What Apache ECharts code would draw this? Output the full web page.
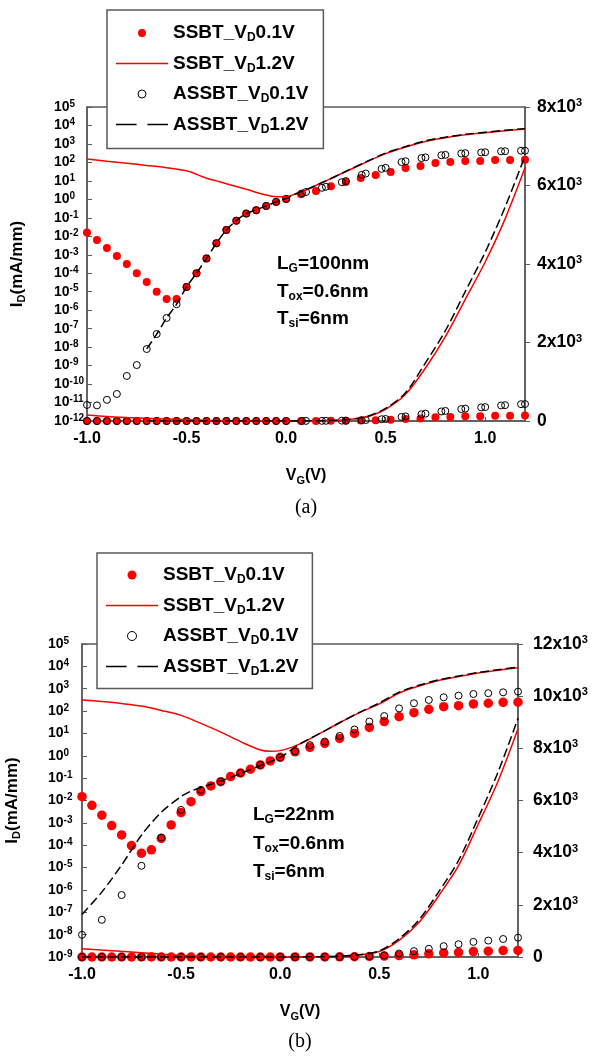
<!DOCTYPE html>
<html>
<head>
<meta charset="utf-8">
<title>SSBT / ASSBT I-V</title>
<script src="https://cdn.jsdelivr.net/npm/echarts/dist/echarts.min.js"></script>
</head>
<body style="margin:0;background:#fff;">
<div id="main" style="width:593px;height:1057px;"></div>
<script>
// series names (legend order)
var names = ['SSBT_VD0.1V', 'SSBT_VD1.2V', 'ASSBT_VD0.1V', 'ASSBT_VD1.2V'];

// ---------- panel (a): LG = 100 nm ----------
var vgDotA = [-1.0, -0.95, -0.9, -0.85, -0.8, -0.75, -0.7, -0.65, -0.6, -0.55, -0.5, -0.45, -0.4, -0.35, -0.3, -0.25, -0.2, -0.15, -0.1, -0.05, 0.0,
  0.075, 0.15, 0.225, 0.3, 0.375, 0.45, 0.525, 0.6, 0.675, 0.75, 0.825, 0.9, 0.975, 1.05, 1.125, 1.2];
var ssbtLowA = [0.016, 0.0063, 0.0023, 8.5e-4, 3.2e-4, 1.0e-4, 3.4e-5, 1.0e-5, 4.0e-6, 4.0e-6, 1.8e-5, 1.0e-4, 6.3e-4, 4.2e-3, 0.022, 0.07, 0.17, 0.26, 0.44, 0.73, 1.05,
  1.9, 2.8, 5.2, 8.7, 14.5, 21, 30, 50, 64, 93, 105, 120, 120, 135, 135, 140];
var vgRingA = [-1.0, -0.95, -0.9, -0.85, -0.8, -0.75, -0.7, -0.65, -0.6, -0.55, -0.5, -0.45, -0.4, -0.35, -0.3, -0.25, -0.2, -0.15, -0.1, -0.05, 0.0,
  0.08, 0.10, 0.18, 0.20, 0.28, 0.30, 0.38, 0.40, 0.48, 0.50, 0.58, 0.60, 0.68, 0.70, 0.78, 0.80, 0.88, 0.90, 0.98, 1.00, 1.08, 1.10, 1.18, 1.20];
var assbtLowA = [7.4e-12, 7e-12, 1.4e-11, 2.9e-11, 2.75e-10, 1.07e-9, 7.9e-9, 5.1e-8, 3.8e-7, 2.1e-6, 1.8e-5, 1.0e-4, 6.3e-4, 4.2e-3, 0.022, 0.07, 0.17, 0.26, 0.44, 0.73, 1.05,
  2.1, 2.5, 4.2, 4.8, 8.5, 9.8, 21, 25, 45, 51, 104, 116, 172, 188, 244, 256, 304, 316, 346, 354, 396, 404, 428, 432];
var vgLineA = [-1.0, -0.9, -0.8, -0.7, -0.6, -0.5, -0.4, -0.35, -0.3, -0.2, -0.1, -0.05, 0.0, 0.05, 0.1, 0.2, 0.3, 0.4, 0.5, 0.6, 0.7, 0.8, 0.9, 1.0, 1.1, 1.2];
var ssbtHighA = [153, 115, 89, 69, 52, 35, 14, 10, 7, 3.5, 1.7, 1.4, 1.4, 2.0, 3.2, 10, 32, 100, 300, 680, 1350, 2150, 3100, 4050, 5150, 6450];
var vgDashA = [-0.7, -0.65, -0.6, -0.55, -0.5, -0.45, -0.4, -0.35, -0.3, -0.25, -0.2, -0.15, -0.1, -0.05, 0.0, 0.05, 0.1, 0.2, 0.3, 0.4, 0.5, 0.6, 0.7, 0.8, 0.9, 1.0, 1.1, 1.2];
var assbtHighA = [8e-9, 5e-8, 3.8e-7, 2.1e-6, 1.8e-5, 1e-4, 6.3e-4, 4.2e-3, 0.022, 0.07, 0.17, 0.27, 0.44, 0.73, 1.1, 2.0, 3.3, 10, 33, 105, 320, 720, 1480, 2300, 3300, 4300, 5450, 6750];

// ---------- panel (b): LG = 22 nm ----------
var vgDotB = vgDotA;
var ssbtLowB = [0.0148, 0.0061, 0.0022, 7.6e-4, 2.9e-4, 9.6e-5, 4.4e-5, 6.2e-5, 2.0e-4, 8.1e-4, 2.9e-3, 8.9e-3, 0.025, 0.045, 0.069, 0.117, 0.17, 0.25, 0.39, 0.59, 0.85,
  1.5, 2.4, 3.6, 6.0, 10, 18.6, 34, 56, 85, 120, 158, 174, 209, 224, 246, 250];
var vgRingB = [-1.0, -0.9, -0.8, -0.7, -0.6, -0.5, -0.4, -0.3, -0.2, -0.1, 0.0,
  0.075, 0.15, 0.225, 0.3, 0.375, 0.45, 0.525, 0.6, 0.675, 0.75, 0.825, 0.9, 0.975, 1.05, 1.125, 1.2];
var assbtLowB = [9.8e-9, 4.6e-8, 5.9e-7, 1.2e-5, 2.2e-4, 3.8e-3, 0.03, 0.07, 0.17, 0.39, 0.85,
  1.6, 3.0, 4.3, 7.7, 15, 34, 60, 132, 224, 314, 414, 490, 580, 630, 690, 740];
var vgLineB = [-1.0, -0.9, -0.8, -0.7, -0.6, -0.5, -0.4, -0.3, -0.2, -0.1, -0.05, 0.0, 0.1, 0.2, 0.3, 0.4, 0.5, 0.6, 0.7, 0.8, 0.9, 1.0, 1.1, 1.2];
var ssbtHighB = [316, 265, 216, 167, 107, 64, 28, 11.5, 4.3, 1.8, 1.6, 1.7, 3.4, 10, 30, 85, 210, 640, 1320, 2350, 3500, 5100, 6750, 8750];
var vgDashB = [-1.0, -0.9, -0.8, -0.7, -0.6, -0.5, -0.45, -0.4, -0.3, -0.2, -0.1, 0.0, 0.1, 0.2, 0.3, 0.4, 0.5, 0.6, 0.7, 0.8, 0.9, 1.0, 1.1, 1.2];
var assbtHighB = [8e-8, 8e-7, 1.3e-5, 2.8e-4, 3e-3, 0.015, 0.026, 0.038, 0.075, 0.16, 0.37, 0.85, 3.4, 10, 30, 88, 230, 700, 1420, 2500, 3700, 5350, 7100, 9150];

// axis tick values
var vgTicks = [-1, -0.5, 0, 0.5, 1];

var RED = '#ff0000', BLACK = '#000000', AXIS = '#5a5a5a';
var FONT = '"Liberation Sans", Arial, sans-serif';
var SERIF = '"Liberation Serif", "Times New Roman", serif';

function zip(xs, ys) {
  return xs.map(function (x, i) { return [x, ys[i]]; });
}

// 4 curves, each drawn on the log axis and again on the linear axis
function panelSeries(g, d) {
  var out = [];
  [g * 3, g * 3 + 2].forEach(function (yi) {
    out.push({ name: names[0], type: 'scatter', xAxisIndex: g, yAxisIndex: yi, data: zip(d.vgDot, d.ssbtLow),
      symbol: 'circle', symbolSize: d.dot, itemStyle: { color: RED, opacity: 1 }, silent: true });
    out.push({ name: names[2], type: 'scatter', xAxisIndex: g, yAxisIndex: yi, data: zip(d.vgRing, d.assbtLow),
      symbol: 'circle', symbolSize: d.ring, silent: true,
      itemStyle: { color: 'rgba(0,0,0,0)', borderColor: BLACK, borderWidth: 1, opacity: 1 } });
    out.push({ name: names[1], type: 'line', xAxisIndex: g, yAxisIndex: yi, data: zip(d.vgLine, d.ssbtHigh),
      symbol: 'none', smooth: 0.3, silent: true, itemStyle: { color: RED }, lineStyle: { color: RED, width: 1.5 } });
    out.push({ name: names[3], type: 'line', xAxisIndex: g, yAxisIndex: yi, data: zip(d.vgDash, d.assbtHigh),
      symbol: 'none', smooth: 0.3, silent: true, itemStyle: { color: BLACK },
      lineStyle: { color: BLACK, width: 1.5, type: [9, 4] } });
  });
  return out;
}

var sub = { fontFamily: FONT, fontSize: 12, fontWeight: 'bold', lineHeight: 10, verticalAlign: 'bottom', color: '#000' };
var sup = { fontFamily: FONT, fontSize: 10, fontWeight: 'bold', lineHeight: 9, verticalAlign: 'top', color: '#000' };
var supR = { fontFamily: FONT, fontSize: 11, fontWeight: 'bold', lineHeight: 9, verticalAlign: 'top', color: '#000' };

function legendFor(left, top, pad, itemH) {
  return {
    orient: 'vertical', left: left, top: top, padding: pad, itemGap: 8.5,
    itemWidth: 52, itemHeight: itemH, borderColor: AXIS, borderWidth: 1.5, backgroundColor: '#fff',
    selectedMode: false,
    data: [
      { name: names[0], icon: 'circle', itemStyle: { color: RED, borderWidth: 0 } },
      { name: names[1], icon: 'path://M0,0H52V1.6H0Z', itemStyle: { color: RED, borderWidth: 0 } },
      { name: names[2], icon: 'circle', itemStyle: { color: '#fff', borderColor: BLACK, borderWidth: 1 } },
      { name: names[3], icon: 'path://M0,0H19V1.6H0Z M29,0H48V1.6H29Z', itemStyle: { color: BLACK, borderWidth: 0 } }
    ],
    formatter: function (n) { return n.replace('_VD', '_V{s|D}'); },
    textStyle: { fontFamily: FONT, fontSize: 19, fontWeight: 'bold', color: '#000', lineHeight: 22, rich: { s: sub } }
  };
}

function xAxisFor(g) {
  return {
    gridIndex: g, type: 'value', min: -1, max: 1.2, interval: 0.5,
    name: 'V{s|G}(V)', nameLocation: 'middle', nameGap: 45,
    nameTextStyle: { fontFamily: FONT, fontSize: 16, fontWeight: 'bold', color: '#000', lineHeight: 20, rich: { s: { fontFamily: FONT, fontSize: 11, fontWeight: 'bold', lineHeight: 9, verticalAlign: 'bottom' } } },
    axisLine: { onZero: false, lineStyle: { color: AXIS, width: 1.5 } },
    axisTick: { inside: true, length: 4, lineStyle: { color: AXIS } },
    splitLine: { show: false },
    axisLabel: {
      margin: 10, fontFamily: FONT, fontSize: 16, fontWeight: 'bold', color: '#000', showMaxLabel: false,
      formatter: function (v) {
        var r = Math.round(v * 100) / 100;
        return vgTicks.indexOf(r) >= 0 ? r.toFixed(1) : '';
      }
    }
  };
}

function yAxesFor(g, logMin, linMax, labMargin, rightMargin) {
  return [
    { gridIndex: g, type: 'log', logBase: 10, min: Math.pow(10, logMin), max: 1e5, show: false },
    {
      gridIndex: g, type: 'value', position: 'left', min: logMin, max: 5, interval: 1,
      name: 'I{s|D}(mA/mm)', nameLocation: 'middle', nameGap: 60,
      nameTextStyle: { fontFamily: FONT, fontSize: 17, fontWeight: 'bold', color: '#000', lineHeight: 20, rich: { s: { fontFamily: FONT, fontSize: 11, fontWeight: 'bold', lineHeight: 9, verticalAlign: 'bottom' } } },
      axisLine: { show: true, onZero: false, lineStyle: { color: AXIS, width: 1.5 } },
      axisTick: { show: true, inside: true, length: 5, lineStyle: { color: AXIS } },
      splitLine: { show: false },
      axisLabel: {
        margin: labMargin, align: 'left', fontFamily: FONT, fontSize: 14, fontWeight: 'bold', color: '#000', lineHeight: 16,
        formatter: function (v) { return '10{p|' + v + '}'; }, rich: { p: sup }
      }
    },
    {
      gridIndex: g, type: 'value', position: 'right', min: 0, max: linMax, interval: 2000,
      axisLine: { show: true, onZero: false, lineStyle: { color: AXIS, width: 1.5 } },
      axisTick: { show: true, inside: false, length: 5, lineStyle: { color: AXIS } },
      splitLine: { show: false },
      axisLabel: {
        margin: rightMargin, fontFamily: FONT, fontSize: 17.5, fontWeight: 'bold', color: '#000', lineHeight: 19,
        formatter: function (v) { return v === 0 ? '0' : (v / 1000) + 'x10{p|3}'; }, rich: { p: supR }
      }
    }
  ];
}

function note(x, y, text) {
  return { type: 'text', x: x, y: y, silent: true,
    style: { text: text, fill: '#000', fontFamily: FONT, fontSize: 19, fontWeight: 'bold', lineHeight: 22,
      verticalAlign: 'middle', align: 'left', rich: { s: { fontFamily: FONT, fontSize: 12, fontWeight: 'bold', lineHeight: 10, verticalAlign: 'bottom', fill: '#000' } } } };
}

var panelA = { vgDot: vgDotA, ssbtLow: ssbtLowA, vgRing: vgRingA, assbtLow: assbtLowA,
  vgLine: vgLineA, ssbtHigh: ssbtHighA, vgDash: vgDashA, assbtHigh: assbtHighA, dot: 8, ring: 7 };
var panelB = { vgDot: vgDotB, ssbtLow: ssbtLowB, vgRing: vgRingB, assbtLow: assbtLowB,
  vgLine: vgLineB, ssbtHigh: ssbtHighB, vgDash: vgDashB, assbtHigh: assbtHighB, dot: 9.5, ring: 7 };

var chart = echarts.init(document.getElementById('main'), null, { renderer: 'canvas' });
chart.setOption({
  backgroundColor: '#fff',
  animation: false,
  grid: [
    { left: 87, top: 107, width: 438, height: 314, show: true, borderColor: AXIS, borderWidth: 1.5, outerBoundsMode: 'none', containLabel: false },
    { left: 82, top: 644, width: 436, height: 313, show: true, borderColor: AXIS, borderWidth: 1.5, outerBoundsMode: 'none', containLabel: false }
  ],
  legend: [
    legendFor(107, 10, [12, 15, 13, 9], 8),
    legendFor(97, 553, [11, 14, 11, 9], 9)
  ],
  xAxis: [xAxisFor(0), xAxisFor(1)],
  yAxis: yAxesFor(0, -12, 8000, 33, 12).concat(yAxesFor(1, -9, 12000, 34, 15)),
  series: panelSeries(0, panelA).concat(panelSeries(1, panelB)),
  graphic: [
    note(277, 264, 'L{s|G}=100nm'),
    note(277, 292, 'T{s|ox}=0.6nm'),
    note(277, 319, 'T{s|si}=6nm'),
    note(253, 815, 'L{s|G}=22nm'),
    note(253, 844, 'T{s|ox}=0.6nm'),
    note(253, 872, 'T{s|si}=6nm'),
    { type: 'text', x: 306, y: 508, silent: true,
      style: { text: '(a)', fill: '#000', fontFamily: SERIF, fontSize: 20, align: 'center', verticalAlign: 'middle' } },
    { type: 'text', x: 300, y: 1042, silent: true,
      style: { text: '(b)', fill: '#000', fontFamily: SERIF, fontSize: 20, align: 'center', verticalAlign: 'middle' } }
  ]
});
</script>
</body>
</html>
